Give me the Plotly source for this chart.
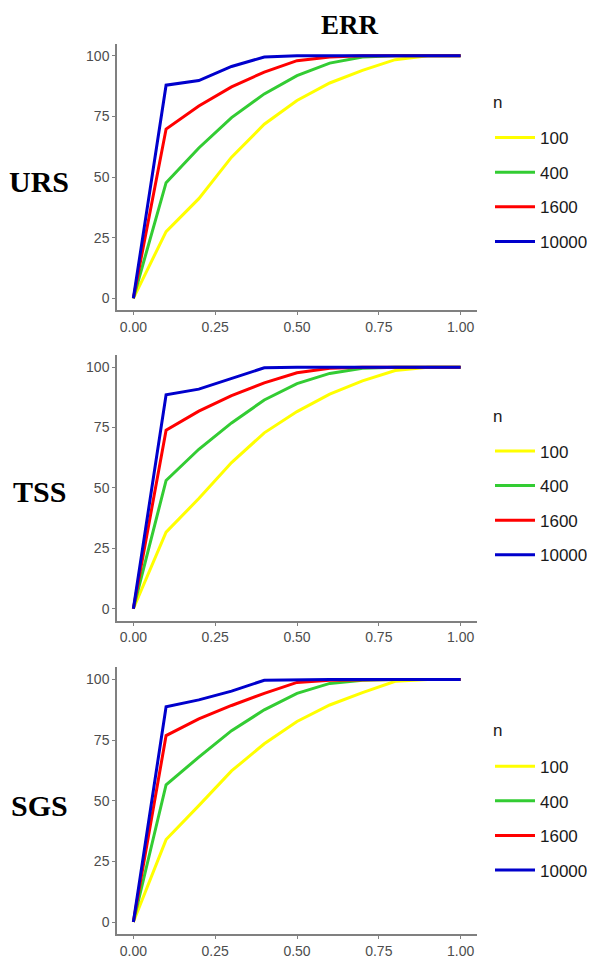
import plotly.graph_objects as go

x_vals = [0.0, 0.1, 0.2, 0.3, 0.4, 0.5, 0.6, 0.7, 0.8, 0.9, 1.0]
series_names = ["100", "400", "1600", "10000"]
series_colors = ["#FFFF00", "#33CC33", "#FF0000", "#0000CC"]
panel_labels = ["URS", "TSS", "SGS"]
title_text = "ERR"
legend_title = "n"

urs_100 = [0, 27.5, 41.1, 58.2, 71.8, 81.6, 88.8, 94.0, 98.4, 100, 100]
urs_400 = [0, 47.7, 62.0, 74.5, 84.3, 91.8, 97.0, 99.5, 100, 100, 100]
urs_1600 = [0, 69.8, 79.3, 87.2, 93.3, 98.0, 99.5, 100, 100, 100, 100]
urs_10000 = [0, 87.9, 89.8, 95.6, 99.5, 100, 100, 100, 100, 100, 100]

tss_100 = [0, 31.7, 45.6, 60.5, 72.8, 81.6, 88.8, 94.3, 98.6, 100, 100]
tss_400 = [0, 53.1, 66.0, 76.9, 86.4, 93.2, 97.4, 99.5, 100, 100, 100]
tss_1600 = [0, 73.9, 81.8, 88.2, 93.5, 97.7, 99.5, 100, 100, 100, 100]
tss_10000 = [0, 88.6, 90.9, 95.4, 99.7, 100, 100, 100, 100, 100, 100]

sgs_100 = [0, 34.0, 48.0, 62.3, 73.5, 82.7, 89.5, 94.6, 99.3, 100, 100]
sgs_400 = [0, 56.6, 68.0, 78.9, 87.5, 94.3, 98.4, 99.7, 100, 100, 100]
sgs_1600 = [0, 76.9, 83.8, 89.3, 94.3, 98.8, 99.7, 100, 100, 100, 100]
sgs_10000 = [0, 88.8, 91.6, 95.2, 99.7, 100, 100, 100, 100, 100, 100]

panels = [
    [urs_100, urs_400, urs_1600, urs_10000],
    [tss_100, tss_400, tss_1600, tss_10000],
    [sgs_100, sgs_400, sgs_1600, sgs_10000],
]

x_ticks = [0, 0.25, 0.5, 0.75, 1.0]
x_ticktext = ["0.00", "0.25", "0.50", "0.75", "1.00"]
y_ticks = [0, 25, 50, 75, 100]

# page body has an 8px margin; figure fills the rest of the 595x959 window
OFF = 8
W, H = 595 - OFF, 959 - OFF


def px_x(px):
    return (px - OFF) / W


def px_y(py):
    return 1 - (py - OFF) / H


x_dom = [px_x(117), px_x(477)]
y_px = [(44, 313), (358, 626), (673, 942)]
legend_top_px = [121, 437, 755]
legend_title_px = [103, 420, 737]
label_y_px = [183, 496, 812]

fig = go.Figure()
axis_color = "#808080"
sans = "Liberation Sans, Arial, sans-serif"
serif = "Liberation Serif, Times New Roman, serif"
tick_font = dict(family=sans, size=14, color="#4d4d4d")

for p, data in enumerate(panels):
    sfx = "" if p == 0 else str(p + 1)
    leg = "legend" if p == 0 else f"legend{p + 1}"
    for i, (name, vals) in enumerate(zip(series_names, data)):
        fig.add_trace(go.Scatter(
            x=x_vals, y=vals, mode="lines", name=name,
            line=dict(color=series_colors[i], width=3),
            xaxis="x" + sfx, yaxis="y" + sfx, legend=leg,
            legendgroup=f"p{p}_{name}", showlegend=True,
        ))
    top, bot = y_px[p]
    dom_y = [px_y(bot), px_y(top)]
    common = dict(showgrid=False, zeroline=False, showline=True, linecolor=axis_color,
                  linewidth=1.5, ticks="outside", tickcolor=axis_color, ticklen=3,
                  tickwidth=1, tickfont=tick_font)
    fig.update_layout(**{
        "xaxis" + sfx: dict(domain=x_dom, range=[-0.05, 1.05], tickvals=x_ticks,
                            ticktext=x_ticktext, anchor="y" + sfx, **common),
        "yaxis" + sfx: dict(domain=dom_y, range=[-5, 105], tickvals=y_ticks,
                            anchor="x" + sfx, **common),
        leg: dict(x=px_x(490), y=px_y(legend_top_px[p]), xanchor="left", yanchor="top",
                  font=dict(family=sans, size=17, color="#1a1a1a"),
                  itemwidth=40, tracegroupgap=9.5, bgcolor="rgba(0,0,0,0)"),
    })
    fig.add_annotation(x=px_x(491), y=px_y(legend_title_px[p]), xref="paper", yref="paper",
                       text=legend_title, showarrow=False, xanchor="left", yanchor="middle",
                       font=dict(family=sans, size=17, color="#1a1a1a"))
    fig.add_annotation(x=px_x(39), y=px_y(label_y_px[p]), xref="paper", yref="paper",
                       text=f"<b>{panel_labels[p]}</b>", showarrow=False,
                       xanchor="center", yanchor="middle",
                       font=dict(family=serif, size=30, color="black"))

fig.add_annotation(x=px_x(350), y=px_y(25), xref="paper", yref="paper",
                   text=f"<b>{title_text}</b>", showarrow=False,
                   xanchor="center", yanchor="middle",
                   font=dict(family=serif, size=27, color="black"))

fig.update_layout(width=W, height=H, margin=dict(l=0, r=0, t=0, b=0),
                  plot_bgcolor="white", paper_bgcolor="white")

fig.write_html("out.html")
